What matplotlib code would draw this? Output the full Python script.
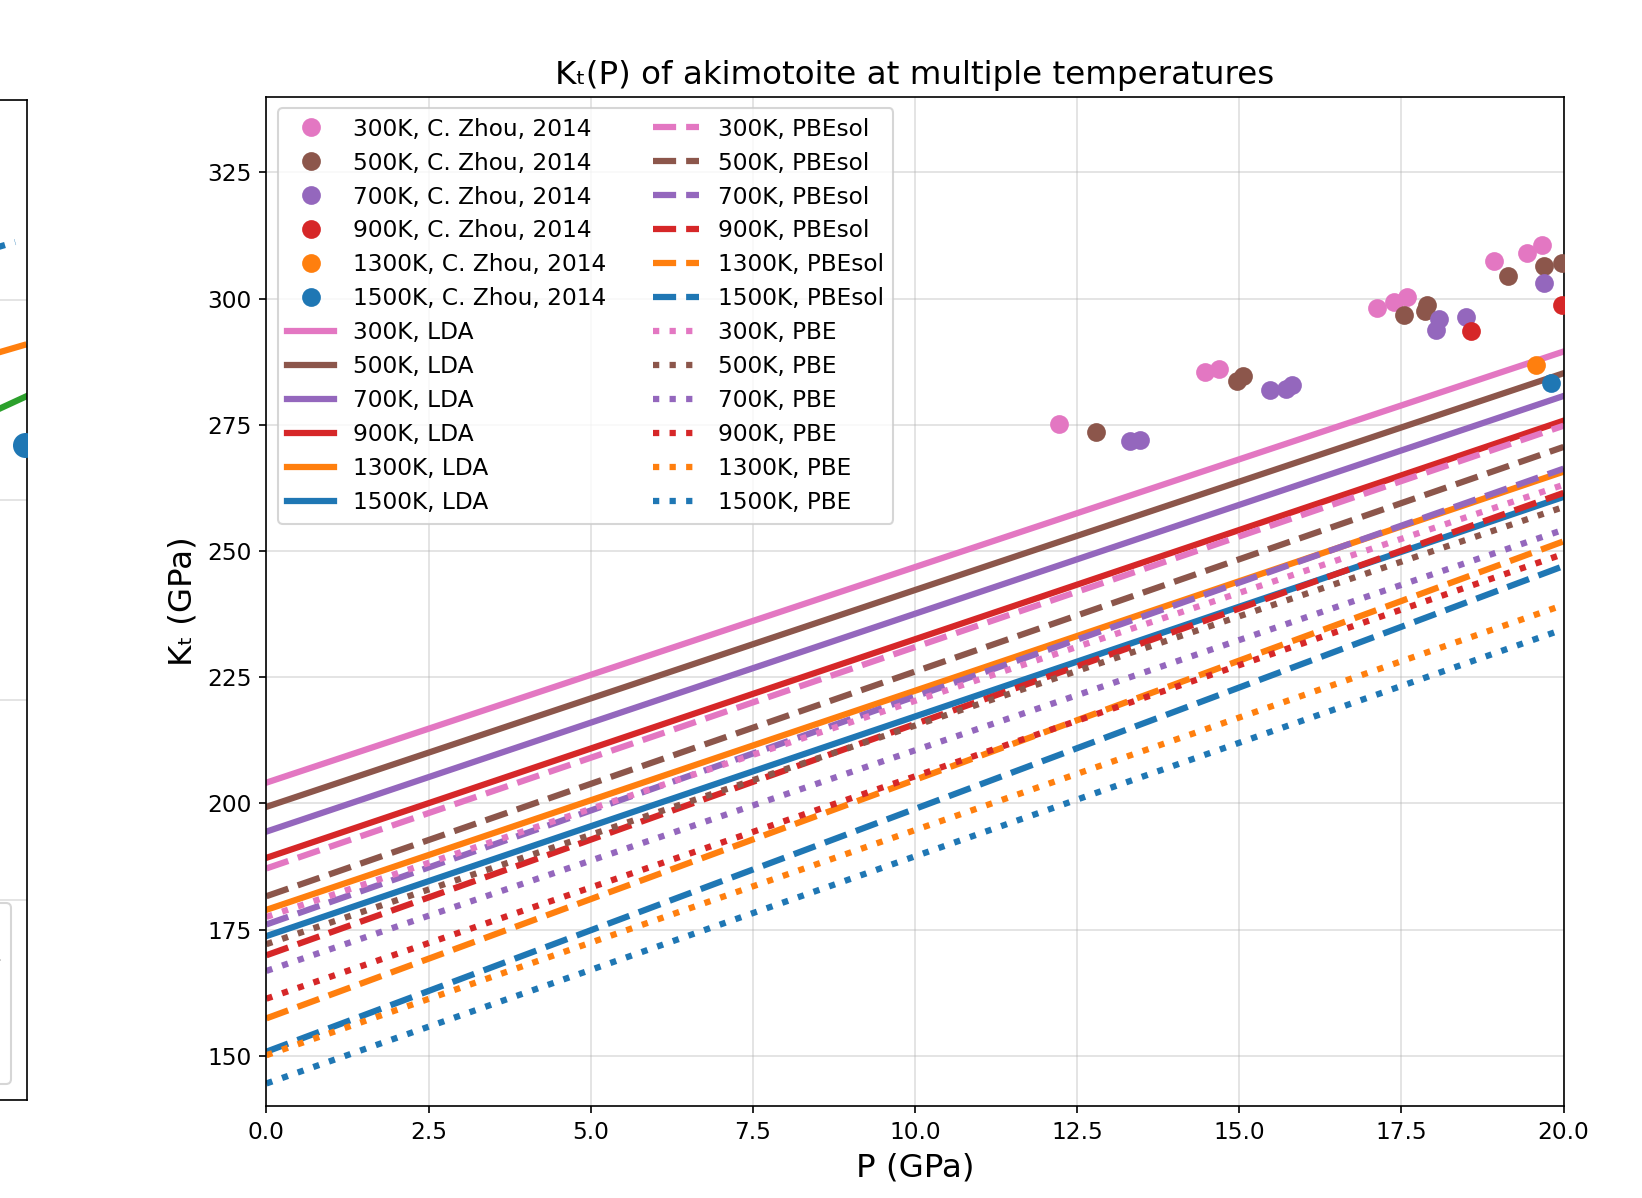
import matplotlib.pyplot as plt
import numpy as np

plt.rcParams['font.size'] = 11.2

# temperatures and colours shared by every data set
temps = ['300K', '500K', '700K', '900K', '1300K', '1500K']
colors = ['tab:pink', 'tab:brown', 'tab:purple', 'tab:red', 'tab:orange', 'tab:blue']

# pressure range of the calculated curves (GPa)
P_calc = [0, 20]

# K_t at P = 0 and P = 20 GPa for each functional, one value per temperature
lda_p0 = [204.1, 199.3, 194.4, 189.2, 178.9, 173.7]
lda_p20 = [289.5, 285.2, 280.7, 275.8, 265.7, 260.7]
pbesol_p0 = [187.1, 181.6, 176.0, 169.9, 157.4, 150.8]
pbesol_p20 = [274.8, 270.6, 266.3, 261.5, 251.9, 247.0]
pbe_p0 = [177.5, 172.1, 166.8, 161.3, 150.1, 144.5]
pbe_p20 = [263.1, 258.7, 254.2, 249.4, 239.3, 234.5]

# experimental points (C. Zhou, 2014)
zhou_P = [
    [12.22, 14.47, 14.69, 17.12, 17.39, 17.59, 18.93, 19.44, 19.66],
    [12.79, 14.97, 15.05, 17.54, 17.86, 17.90, 19.14, 19.70, 19.98],
    [13.31, 13.47, 15.47, 15.72, 15.82, 18.03, 18.08, 18.50, 19.70],
    [18.58, 19.98],
    [19.57],
    [19.80],
]
zhou_K = [
    [275.1, 285.5, 286.1, 298.2, 299.3, 300.3, 307.5, 309.0, 310.6],
    [273.5, 283.6, 284.7, 296.7, 297.5, 298.7, 304.4, 306.4, 307.1],
    [271.8, 272.0, 281.9, 282.0, 282.9, 293.8, 296.0, 296.3, 303.0],
    [293.6, 298.7],
    [286.8],
    [283.2],
]

# 300K comparison panel
cmp_P = [0, 22]
cmp_P_lda = [0, 21.94]
cmp_P_pbe = [0, 21.8]
cmp_lda = [194.4, 288.7]
cmp_pbesol = [126.4, 276.0]
cmp_pbe = [220.0, 314.5]
cmp_zhou_P = [21.97]
cmp_zhou_K = [263.8]

fig = plt.figure(figsize=(1642 / 150, 1198 / 150), dpi=150)

# ---------------- left panel (300K) ----------------
w = 0.79001
axL = fig.add_axes([27 / 1642 - w, 1 - 1100 / 1198, w, 1000 / 1198])
axL.plot(cmp_zhou_P, cmp_zhou_K, 'o', color='tab:blue', ms=11, zorder=3,
         label='300K, C. Zhou, 2014')
axL.plot(cmp_P_lda, cmp_lda, '-', color='tab:orange', lw=3, label='300K, LDA')
axL.plot(cmp_P, cmp_pbesol, '-', color='tab:green', lw=3, label='300K, PBEsol')
axL.plot(cmp_P_pbe, cmp_pbe, ':', color='tab:blue', lw=3, label='300K, PBE')
axL.set_xlim(0, 22)
axL.set_ylim(100, 350)
axL.grid(True, alpha=0.4)
axL.set_xlabel('P (GPa)', fontsize=15.6)
axL.set_ylabel('Kₜ (GPa)', fontsize=15.6)
axL.set_title('Kₜ(P) of akimotoite at 300K', fontsize=15.6)
axL.legend(loc='lower right', title='T = 300K', borderaxespad=0.7)

# ---------------- main panel ----------------
ax = fig.add_axes([266.4 / 1642, 1 - 1106.2 / 1198, 1297.2 / 1642, 1009.6 / 1198])

for i in range(len(temps)):
    ax.plot(zhou_P[i], zhou_K[i], 'o', color=colors[i], ms=8, zorder=3,
            label=temps[i] + ', C. Zhou, 2014')

for i in range(len(temps)):
    ax.plot(P_calc, [lda_p0[i], lda_p20[i]], '-', color=colors[i], lw=3,
            label=temps[i] + ', LDA')

for i in range(len(temps)):
    ax.plot(P_calc, [pbesol_p0[i], pbesol_p20[i]], '--', color=colors[i], lw=3,
            label=temps[i] + ', PBEsol')

for i in range(len(temps)):
    ax.plot(P_calc, [pbe_p0[i], pbe_p20[i]], ':', color=colors[i], lw=3,
            label=temps[i] + ', PBE')

ax.set_xlim(0, 20)
ax.set_ylim(140, 340)
ax.set_yticks(np.arange(150, 326, 25))
ax.grid(True, alpha=0.4)
ax.set_xlabel('P (GPa)', fontsize=15.6)
ax.set_ylabel('Kₜ (GPa)', fontsize=15.6)
ax.set_title('Kₜ(P) of akimotoite at multiple temperatures', fontsize=15.6)
ax.legend(loc='upper left', ncol=2, labelspacing=0.47)

fig.savefig('out.png', dpi=150)
